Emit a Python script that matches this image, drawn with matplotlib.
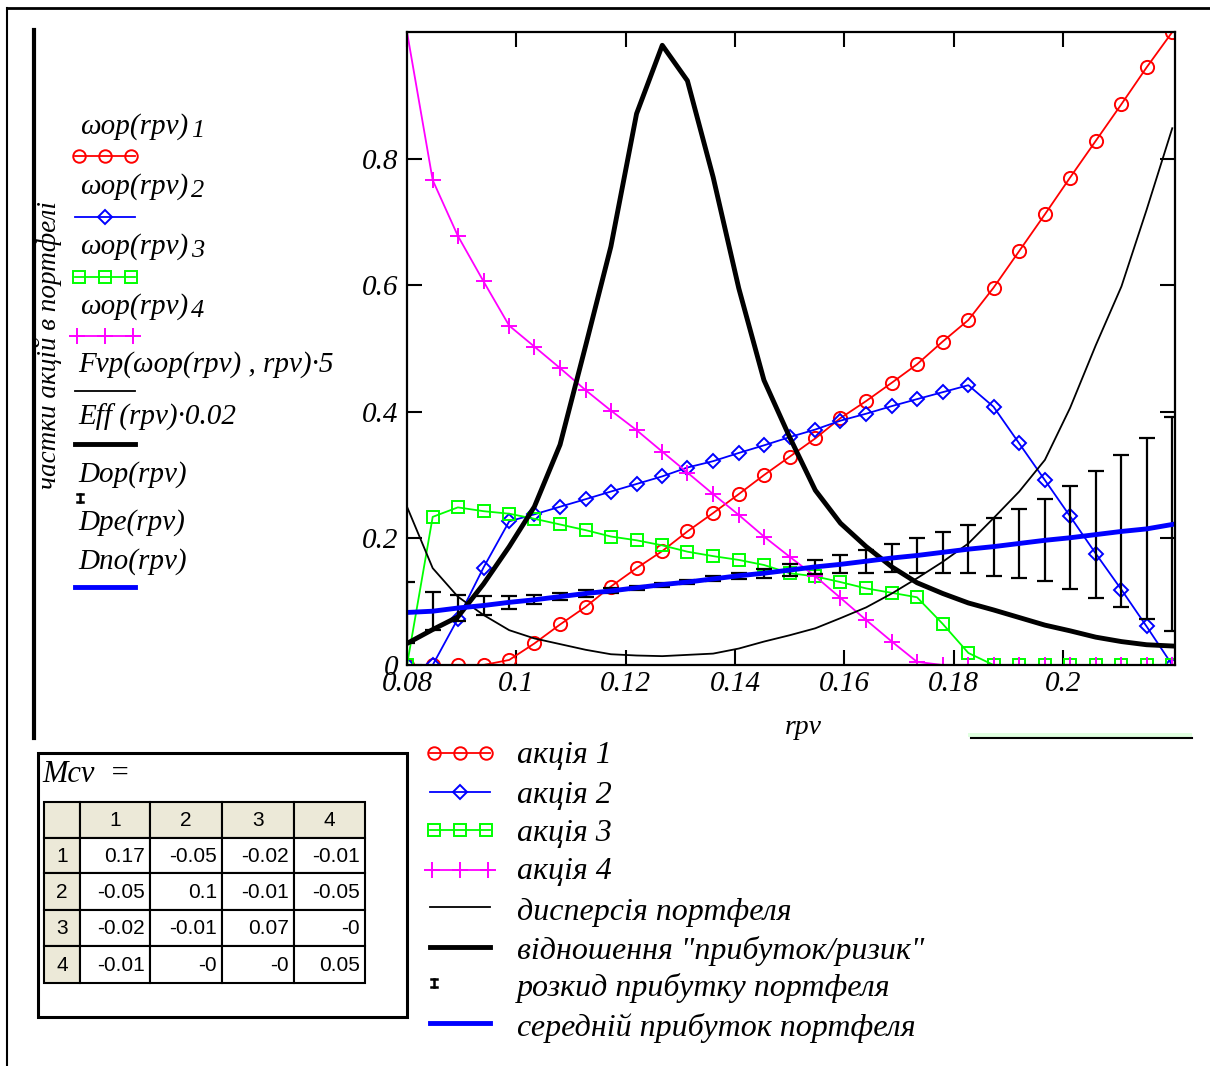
import matplotlib.pyplot as plt
from matplotlib.patches import Rectangle

# --- data -----------------------------------------------------------------
rpv = [0.0800, 0.0847, 0.0893, 0.0940, 0.0987, 0.1033, 0.1080, 0.1127, 0.1173,
       0.1220, 0.1267, 0.1313, 0.1360, 0.1407, 0.1453, 0.1500, 0.1547, 0.1593,
       0.1640, 0.1687, 0.1733, 0.1780, 0.1827, 0.1873, 0.1920, 0.1967, 0.2013,
       0.2060, 0.2107, 0.2153, 0.2200]

w1 = [0, 0, 0, 0, 0.008, 0.034, 0.064, 0.092, 0.124, 0.153, 0.180, 0.211, 0.240,
      0.270, 0.300, 0.329, 0.358, 0.390, 0.417, 0.446, 0.475, 0.511, 0.545, 0.596,
      0.654, 0.712, 0.770, 0.828, 0.886, 0.944, 1.0]
w2 = [0, 0, 0.073, 0.154, 0.227, 0.238, 0.250, 0.262, 0.274, 0.286, 0.298, 0.312,
      0.322, 0.335, 0.347, 0.360, 0.372, 0.386, 0.397, 0.409, 0.420, 0.431, 0.442,
      0.408, 0.350, 0.292, 0.235, 0.176, 0.119, 0.061, 0]
w3 = [0, 0.234, 0.249, 0.243, 0.239, 0.231, 0.222, 0.213, 0.203, 0.197, 0.189,
      0.179, 0.172, 0.166, 0.158, 0.145, 0.140, 0.131, 0.121, 0.114, 0.107, 0.065,
      0.019, 0, 0, 0, 0, 0, 0, 0, 0]
w4 = [1.0, 0.766, 0.678, 0.606, 0.536, 0.503, 0.469, 0.434, 0.402, 0.371, 0.337,
      0.304, 0.270, 0.237, 0.203, 0.171, 0.140, 0.106, 0.071, 0.037, 0.005, 0, 0,
      0, 0, 0, 0, 0, 0, 0, 0]

fvp5 = [0.250, 0.153, 0.108, 0.079, 0.055, 0.042, 0.033, 0.024, 0.017, 0.015,
        0.014, 0.016, 0.018, 0.026, 0.037, 0.047, 0.058, 0.074, 0.091, 0.113,
        0.137, 0.163, 0.192, 0.232, 0.274, 0.324, 0.406, 0.505, 0.598, 0.719, 0.848]
eff = [0.034, 0.056, 0.076, 0.128, 0.187, 0.250, 0.348, 0.505, 0.661, 0.871,
       0.979, 0.923, 0.771, 0.595, 0.450, 0.360, 0.276, 0.224, 0.187, 0.155,
       0.130, 0.113, 0.098, 0.087, 0.075, 0.063, 0.054, 0.044, 0.037, 0.032, 0.030]

dno = [0.083, 0.085, 0.090, 0.094, 0.099, 0.103, 0.108, 0.113, 0.117, 0.122,
       0.127, 0.131, 0.136, 0.141, 0.145, 0.150, 0.155, 0.159, 0.164, 0.169,
       0.173, 0.178, 0.183, 0.187, 0.192, 0.197, 0.201, 0.206, 0.211, 0.215, 0.222]
spread = [0.048, 0.030, 0.020, 0.015, 0.010, 0.007, 0.006, 0.005, 0.004, 0.003,
          0.003, 0.003, 0.004, 0.005, 0.007, 0.009, 0.011, 0.014, 0.018, 0.022,
          0.027, 0.032, 0.038, 0.046, 0.054, 0.065, 0.081, 0.100, 0.120, 0.143, 0.169]

xticks = [0.08, 0.10, 0.12, 0.14, 0.16, 0.18, 0.20]
xtick_labels = ["0.08", "0.1", "0.12", "0.14", "0.16", "0.18", "0.2"]
yticks = [0, 0.2, 0.4, 0.6, 0.8]
ytick_labels = ["0", "0.2", "0.4", "0.6", "0.8"]

mcv = [["0.17", "-0.05", "-0.02", "-0.01"],
       ["-0.05", "0.1", "-0.01", "-0.05"],
       ["-0.02", "-0.01", "0.07", "-0"],
       ["-0.01", "-0", "-0", "0.05"]]

legend_names = ["акція 1", "акція 2", "акція 3", "акція 4", "дисперсія портфеля",
                'відношення "прибуток/ризик"', "розкид прибутку портфеля",
                "середній прибуток портфеля"]

SERIF = "Liberation Serif"
SANS = "Liberation Sans"
W, H = 1210, 1066

fig = plt.figure(figsize=(W / 100, H / 100), dpi=100)

# overlay in pixel coordinates for everything outside the plot
ov = fig.add_axes([0, 0, 1, 1])
ov.set_xlim(0, W)
ov.set_ylim(H, 0)
ov.axis("off")


def txt(x, y, s, size=21, ha="left", **kw):
    ov.text(x, y, s, fontsize=size, family=SERIF, style="italic",
            ha=ha, va="center", **kw)


def sample(x0, x1, y, kind):
    if kind == "red":
        ov.plot([x0, x1], [y, y], color="red", lw=1.3)
        ov.plot([x0 + 4, (x0 + x1) / 2, x1 - 4], [y] * 3, "o", ms=9, mfc="none",
                mec="red", mew=1.4)
    elif kind == "blue":
        ov.plot([x0, x1], [y, y], color="blue", lw=1.3)
        ov.plot([(x0 + x1) / 2], [y], "D", ms=7, mfc="none", mec="blue", mew=1.4)
    elif kind == "green":
        ov.plot([x0, x1], [y, y], color="#00ff00", lw=1.3)
        ov.plot([x0 + 4, (x0 + x1) / 2, x1 - 4], [y] * 3, "s", ms=8, mfc="none",
                mec="#00ff00", mew=1.4)
    elif kind == "magenta":
        ov.plot([x0, x1], [y, y], color="magenta", lw=1.3)
        ov.plot([x0 + 2, (x0 + x1) / 2, x1 - 2], [y] * 3, "+", ms=11,
                mec="magenta", mew=1.4)
    elif kind == "thin":
        ov.plot([x0, x1], [y, y], color="black", lw=1.3)
    elif kind == "thick":
        ov.plot([x0, x1], [y, y], color="black", lw=3.5)
    elif kind == "bluethick":
        ov.plot([x0, x1], [y, y], color="blue", lw=3.5)
    elif kind == "err":
        ov.plot([x0 + 4, x0 + 4], [y - 4, y + 4], color="black", lw=1.8)
        ov.plot([x0 + 1, x0 + 7], [y - 4, y - 4], color="black", lw=1.8)
        ov.plot([x0 + 1, x0 + 7], [y + 4, y + 4], color="black", lw=1.8)


# page borders
ov.plot([7, W], [8, 8], color="black", lw=2)
ov.plot([7, 7], [8, H], color="black", lw=1.5)
ov.plot([34, 34], [30, 738], color="black", lw=3)
ov.add_patch(Rectangle((968, 733), 224, 4, color="#e0ffe0", lw=0))
ov.plot([971, 1192], [738, 738], color="black", lw=1.5)

# left legend (trace names)
names = ["ωop(rpv)", "ωop(rpv)", "ωop(rpv)", "ωop(rpv)"]
name_y = [127, 187, 247, 307]
sample_y = [156, 217, 277, 336]
kinds = ["red", "blue", "green", "magenta"]
for i, (n, ty, sy, k) in enumerate(zip(names, name_y, sample_y, kinds)):
    txt(80, ty, n)
    txt(191, ty + 4, str(i + 1), size=19)
    sample(75, 135, sy, k)
txt(78, 365, "Fvp(ωop(rpv) , rpv)·5")
sample(75, 135, 391, "thin")
txt(78, 417, "Eff (rpv)·0.02")
sample(75, 135, 444, "thick")
txt(78, 475, "Dop(rpv)")
sample(76, 135, 498, "err")
txt(78, 523, "Dpe(rpv)")
txt(78, 562, "Dno(rpv)")
sample(75, 135, 587, "bluethick")

ov.text(49, 345, "частки акцій в портфелі", fontsize=19.5, family=SERIF,
        style="italic", rotation=90, ha="center", va="center")
txt(803, 727, "rpv", size=20, ha="center")

# bottom legend
leg_text_y = [756, 795, 833, 872, 912, 951, 988, 1028]
leg_line_y = [753, 792, 830, 870, 907, 947, 983, 1023]
leg_kinds = ["red", "blue", "green", "magenta", "thin", "thick", "err", "bluethick"]
for name, ty, ly, k in zip(legend_names, leg_text_y, leg_line_y, leg_kinds):
    sample(430, 490, ly, k)
    txt(517, ty, name, size=23)

# Mcv table
ov.add_patch(Rectangle((38, 753), 369, 264, fill=False, ec="black", lw=2.2))
txt(42, 775, "Mcv  =", size=22)
col_x = [44, 80, 150, 222, 294, 365]
row_y = [802, 838, 873, 910, 946, 983]
hdr = "#ece9d8"
for r in range(5):
    for c in range(5):
        x0, x1 = col_x[c], col_x[c + 1]
        y0, y1 = row_y[r], row_y[r + 1]
        face = hdr if (r == 0 or c == 0) else "white"
        ov.add_patch(Rectangle((x0, y0), x1 - x0, y1 - y0, fc=face, ec="black",
                               lw=1.5))
        cy = (y0 + y1) / 2 + 1
        if r == 0 and c > 0:
            ov.text((x0 + x1) / 2, cy, str(c), fontsize=15, family=SANS,
                    ha="center", va="center")
        elif c == 0 and r > 0:
            ov.text((x0 + x1) / 2, cy, str(r), fontsize=15, family=SANS,
                    ha="center", va="center")
        elif r > 0 and c > 0:
            ov.text(x1 - 5, cy, mcv[r - 1][c - 1], fontsize=15, family=SANS,
                    ha="right", va="center")

# main plot
ax = fig.add_axes([407 / W, 1 - 665 / H, 768 / W, 633 / H])
ax.plot(rpv, w1, color="red", lw=1.3, marker="o", ms=9.5, mfc="none", mew=1.4)
ax.plot(rpv, w2, color="blue", lw=1.3, marker="D", ms=7, mfc="none", mew=1.4)
ax.plot(rpv, w3, color="#00ff00", lw=1.3, marker="s", ms=8.5, mfc="none", mew=1.4)
ax.plot(rpv, w4, color="magenta", lw=1.3, marker="+", ms=11, mew=1.4)
ax.plot(rpv, fvp5, color="black", lw=1.3)
ax.plot(rpv, eff, color="black", lw=3.5)
ax.errorbar(rpv, dno, yerr=spread, fmt="none", ecolor="black", elinewidth=1.6,
            capsize=5.5, capthick=1.6)
ax.plot(rpv, dno, color="blue", lw=3.5)

ax.set_xlim(0.08, 0.2205)
ax.set_ylim(0, 1.0)
ax.set_xticks(xticks)
ax.set_xticklabels(xtick_labels)
ax.set_yticks(yticks)
ax.set_yticklabels(ytick_labels)
ax.tick_params(direction="in", length=11, width=1.5, top=True, right=True,
               labelsize=21, pad=6)
ax.tick_params(axis="x", pad=4)
for lab in ax.get_xticklabels() + ax.get_yticklabels():
    lab.set_family(SERIF)
    lab.set_style("italic")
for sp in ax.spines.values():
    sp.set_linewidth(1.6)

fig.savefig("out.png", dpi=100)
